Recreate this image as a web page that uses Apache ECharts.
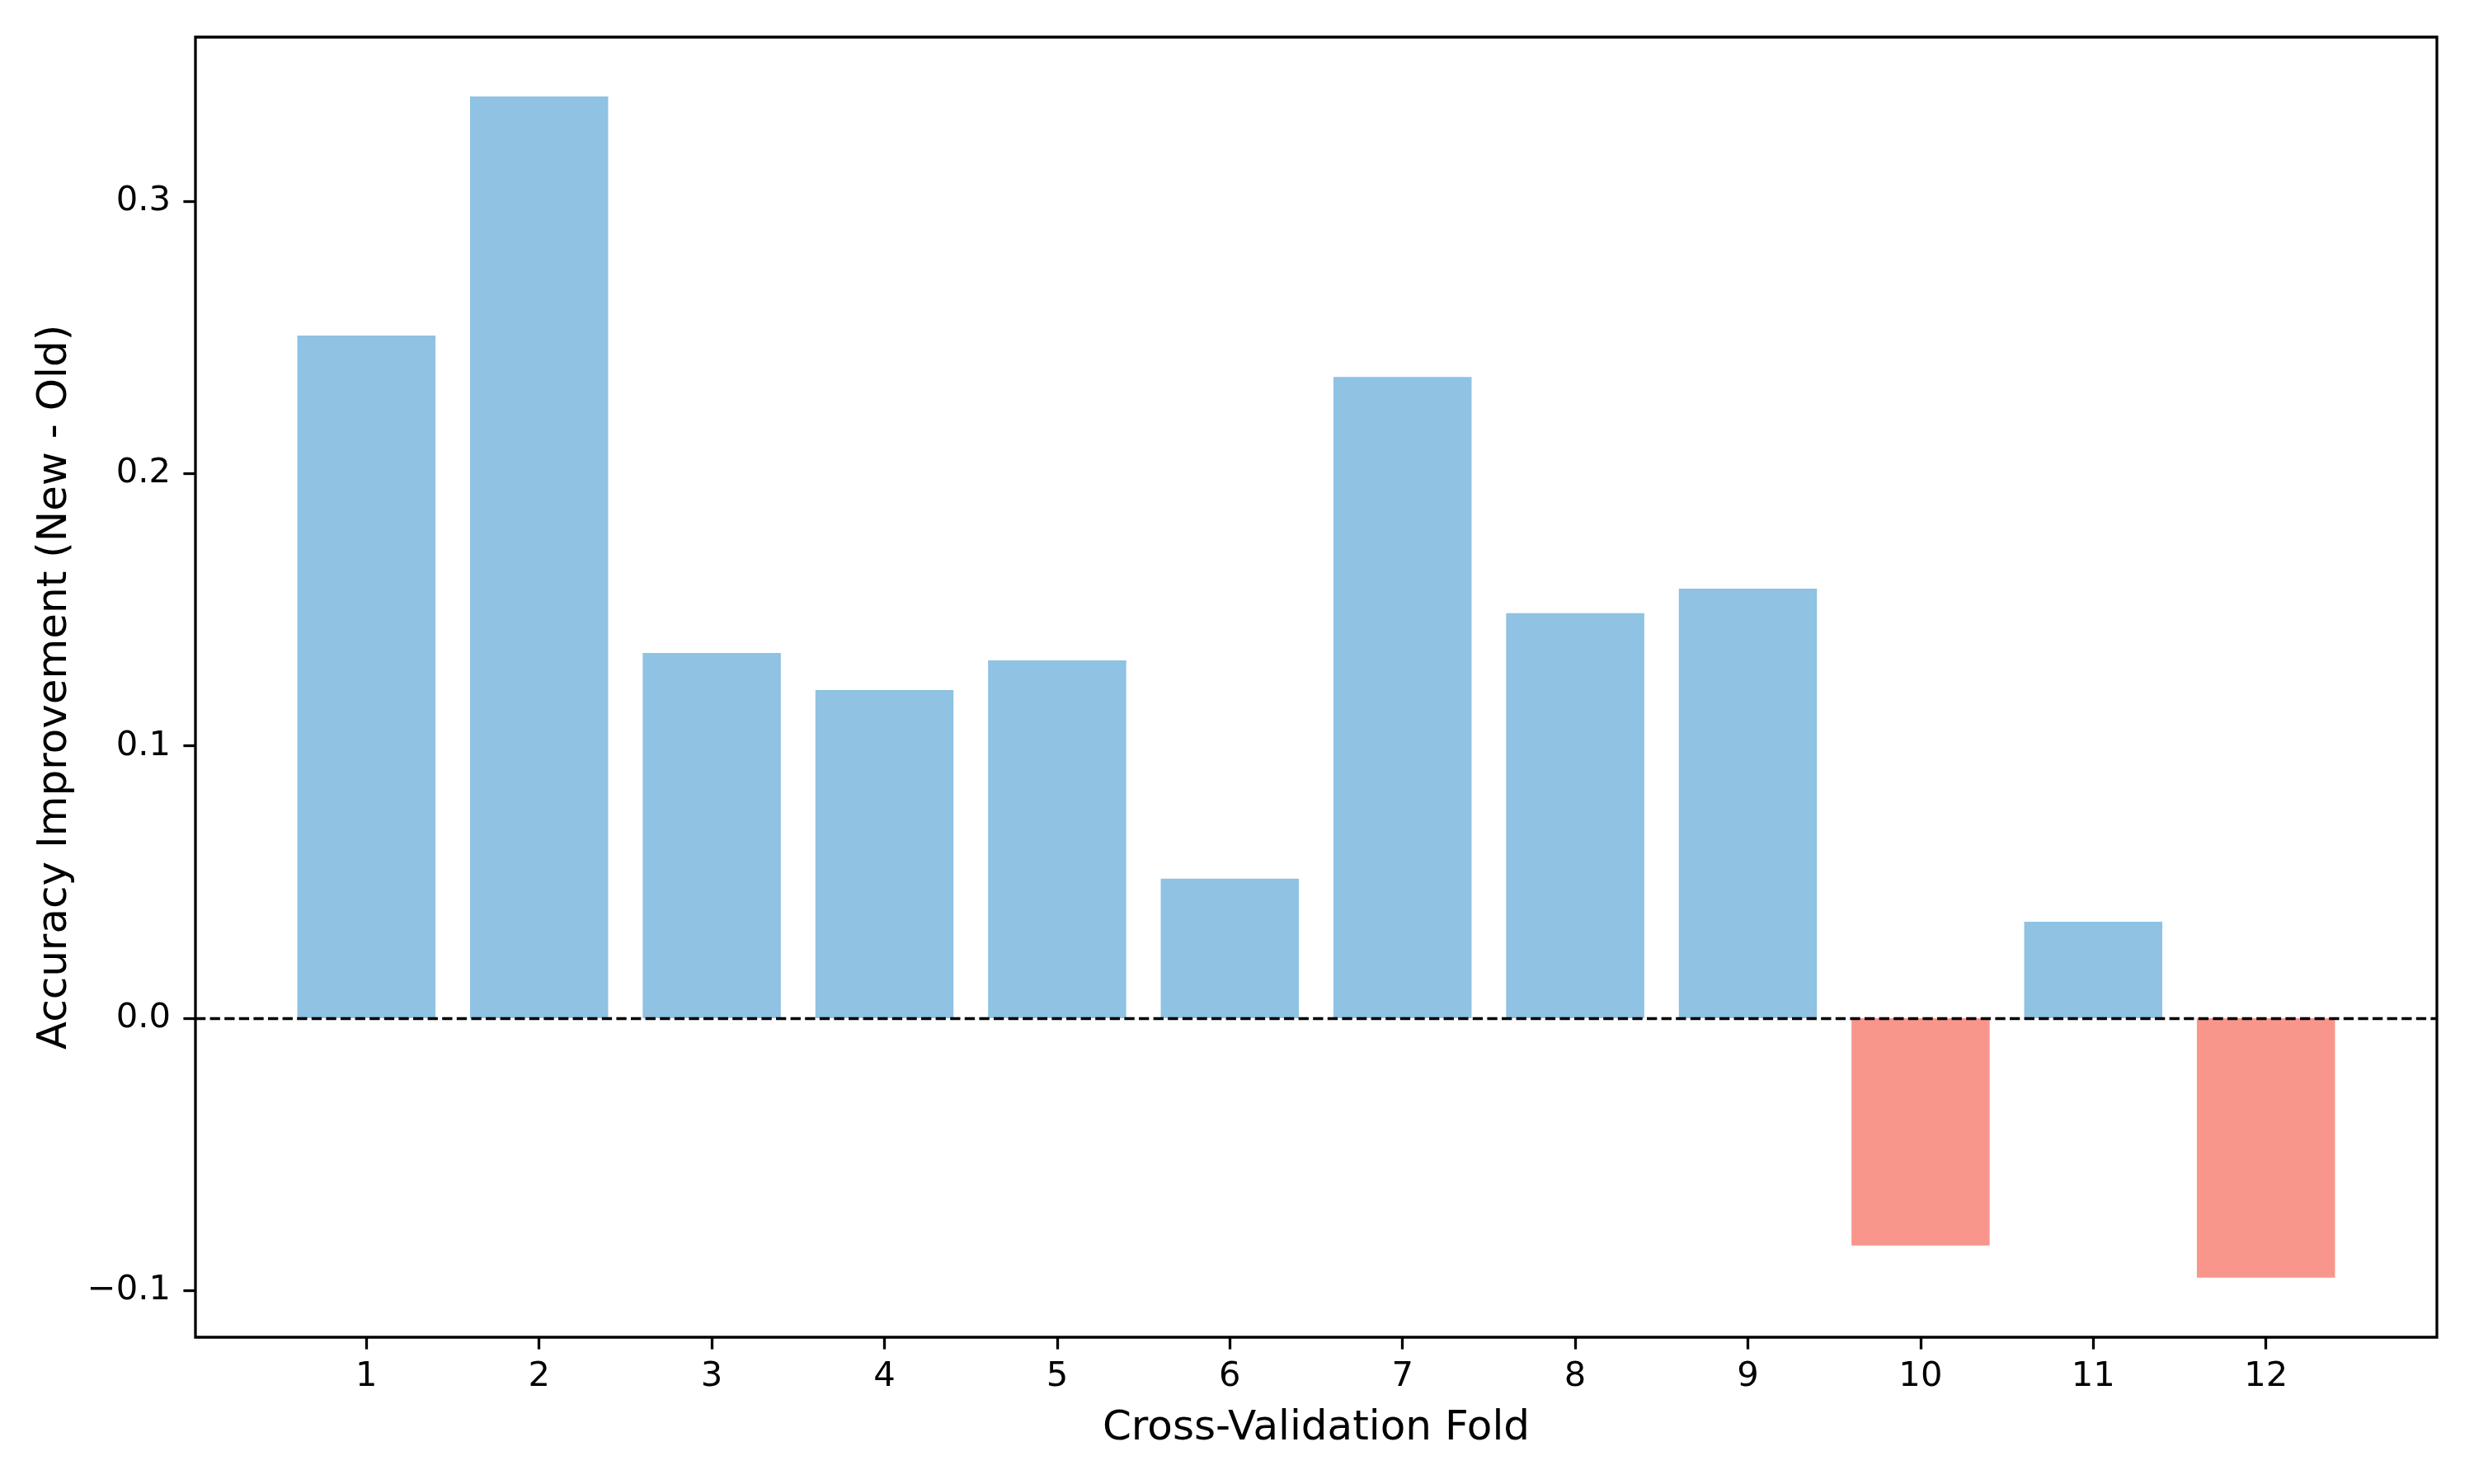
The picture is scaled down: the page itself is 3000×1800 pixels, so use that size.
<!DOCTYPE html>
<html>
<head>
<meta charset="utf-8">
<script src="https://cdn.jsdelivr.net/npm/echarts@6/dist/echarts.min.js"></script>
<style>
html,body{margin:0;padding:0;background:#fff;}
#chart{width:3000px;height:1800px;}
</style>
</head>
<body>
<div id="chart"></div>
<script>
const folds = [1, 2, 3, 4, 5, 6, 7, 8, 9, 10, 11, 12];
const improvements = [0.2507, 0.3385, 0.1341, 0.1205, 0.1314, 0.0512, 0.2355, 0.1487, 0.1577, -0.0835, 0.0354, -0.0953];
const yTicks = [-0.1, 0.0, 0.1, 0.2, 0.3];
const xLabel = 'Cross-Validation Fold';
const yLabel = 'Accuracy Improvement (New - Old)';

const posColor = '#8fc2e3';
const negColor = '#f9968b';
const FONT = 'DejaVu Sans';

const chart = echarts.init(document.getElementById('chart'), null, {renderer: 'canvas'});
const fmtY = v => (v < 0 ? '\u2212' + Math.abs(v).toFixed(1) : v.toFixed(1));

chart.setOption({
  animation: false,
  backgroundColor: '#fff',
  grid: {
    left: 237, right: 45, top: 45, bottom: 178,
    show: true, borderColor: '#000', borderWidth: 3.3, backgroundColor: 'transparent'
  },
  xAxis: {
    type: 'value',
    position: 'bottom',
    min: 0.01, max: 12.99,
    name: xLabel,
    nameLocation: 'middle',
    nameGap: 86,
    nameTextStyle: {fontFamily: FONT, fontSize: 50, color: '#000'},
    axisLine: {show: false, onZero: false},
    splitLine: {show: false},
    axisTick: {show: true, length: 14.6, lineStyle: {color: '#000', width: 3.3}, customValues: folds},
    axisLabel: {show: true, margin: 27, fontFamily: FONT, fontSize: 41.7, color: '#000', customValues: folds,
      formatter: v => String(Math.round(v))}
  },
  yAxis: {
    type: 'value',
    position: 'left',
    min: -0.1172, max: 0.3603,
    name: yLabel,
    nameLocation: 'middle',
    nameGap: 145,
    nameTextStyle: {fontFamily: FONT, fontSize: 50, color: '#000'},
    axisLine: {show: false, onZero: false},
    splitLine: {show: false},
    axisTick: {show: true, length: 14.6, lineStyle: {color: '#000', width: 3.3}, customValues: yTicks},
    axisLabel: {show: true, margin: 30, fontFamily: FONT, fontSize: 41.7, color: '#000', customValues: yTicks,
      formatter: fmtY}
  },
  series: [{
    type: 'bar',
    barWidth: 167.5,
    data: folds.map((f, i) => [f, improvements[i]]),
    itemStyle: {color: p => (p.value[1] < 0 ? negColor : posColor)},
    markLine: {
      silent: true,
      symbol: ['none', 'none'],
      label: {show: false},
      lineStyle: {color: '#000', width: 3.3, type: [12.3, 5.3]},
      data: [{yAxis: 0}],
      z: 10
    }
  }]
});
</script>
</body>
</html>
